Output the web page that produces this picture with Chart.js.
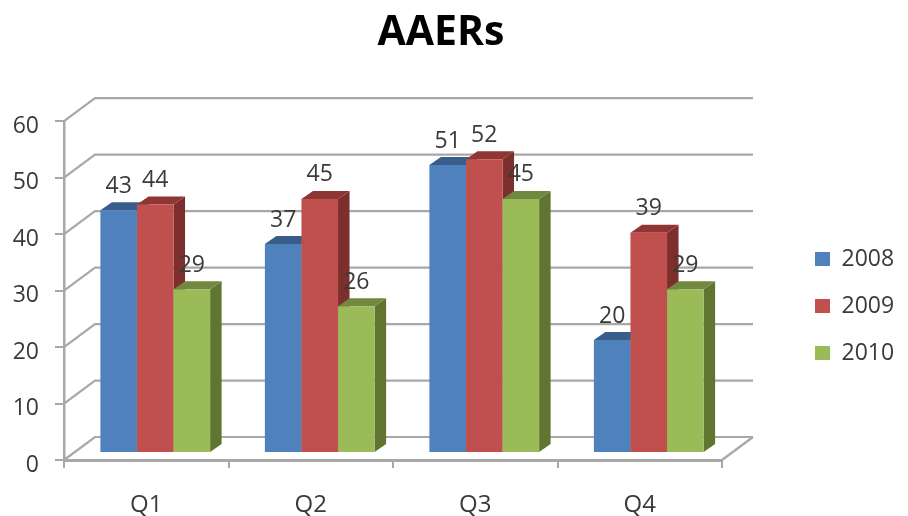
<!DOCTYPE html>
<html>
<head>
<meta charset="utf-8">
<title>AAERs</title>
<script src="https://cdn.jsdelivr.net/npm/chart.js@4"></script>
<style>
  html, body { margin: 0; padding: 0; background: #fff; }
  canvas { display: block; }
</style>
</head>
<body>
<canvas id="chart" width="908" height="516"></canvas>
<script>
const categories = ['Q1', 'Q2', 'Q3', 'Q4'];
const seriesNames = ['2008', '2009', '2010'];
const values2008 = [43, 37, 51, 20];
const values2009 = [44, 45, 52, 39];
const values2010 = [29, 26, 45, 29];

const frontColors = ['#4F81BD', '#C0504D', '#9BBB59'];
const topColors = ['#385D8A', '#8F3634', '#71893F'];
const sideColors = ['#335580', '#7C2F2D', '#5F7530'];
const FONT = '"Open Sans", sans-serif';
const TEXT = '#3a3a3a';
const LINE = '#a8a8a8';

// Pseudo-3D: bars stand part-way into the floor, the back wall sits behind them.
const WALL = { dx: 31, dy: -23 };
const BAR_SHIFT = { dx: 9, dy: -7 };
const BAR_DEPTH = { dx: 11.5, dy: -8 };

const wallPlugin = {
  id: 'wall',
  beforeDatasetsDraw(chart) {
    const { ctx, scales: { x, y } } = chart;
    const left = x.left, right = x.right;
    ctx.save();
    ctx.strokeStyle = LINE;
    ctx.lineWidth = 2.2;
    ctx.beginPath();
    y.ticks.forEach(t => {
      const py = y.getPixelForValue(t.value);
      ctx.moveTo(left, py);
      ctx.lineTo(left + WALL.dx, py + WALL.dy);
      ctx.lineTo(right + WALL.dx, py + WALL.dy);
    });
    const floor = y.getPixelForValue(0);
    ctx.moveTo(right, floor);
    ctx.lineTo(right + WALL.dx, floor + WALL.dy);
    ctx.stroke();
    ctx.restore();
  }
};

// Each series paints left to right so a later bar covers its neighbour's side face.
const prismPlugin = {
  id: 'prism',
  beforeDatasetDraw() {
    return false;
  },
  afterDatasetsDraw(chart) {
    const { ctx } = chart;
    chart.data.datasets.forEach((ds, i) => {
      const meta = chart.getDatasetMeta(i);
      ctx.save();
      ctx.translate(BAR_SHIFT.dx, BAR_SHIFT.dy);
      meta.data.forEach(bar => {
        const x0 = bar.x - bar.width / 2;
        const x1 = bar.x + bar.width / 2;
        ctx.fillStyle = sideColors[i];
        ctx.beginPath();
        ctx.moveTo(x1, bar.y);
        ctx.lineTo(x1 + BAR_DEPTH.dx, bar.y + BAR_DEPTH.dy);
        ctx.lineTo(x1 + BAR_DEPTH.dx, bar.base + BAR_DEPTH.dy);
        ctx.lineTo(x1, bar.base);
        ctx.closePath();
        ctx.fill();
        ctx.fillStyle = topColors[i];
        ctx.beginPath();
        ctx.moveTo(x0, bar.y);
        ctx.lineTo(x0 + BAR_DEPTH.dx, bar.y + BAR_DEPTH.dy);
        ctx.lineTo(x1 + BAR_DEPTH.dx, bar.y + BAR_DEPTH.dy);
        ctx.lineTo(x1, bar.y);
        ctx.closePath();
        ctx.fill();
      });
      meta.controller.draw();
      ctx.restore();
    });

    // Value labels go on last, above every bar face.
    ctx.save();
    ctx.font = '23px ' + FONT;
    ctx.fillStyle = TEXT;
    ctx.textAlign = 'center';
    ctx.textBaseline = 'middle';
    chart.data.datasets.forEach((ds, i) => {
      chart.getDatasetMeta(i).data.forEach((bar, j) => {
        ctx.fillText(String(ds.data[j]), bar.x + BAR_SHIFT.dx, bar.y + BAR_SHIFT.dy - 24);
      });
    });
    ctx.restore();
  }
};

// Title and legend sit outside the plot's own centre line.
const placementPlugin = {
  id: 'placement',
  afterLayout(chart) {
    const t = chart.titleBlock;
    t.left = 0;
    t.right = 882;
    const l = chart.legend;
    const pad = l.options.labels.padding;
    l.left = 815 - pad;
    l.right = 908;
    l.top = 223.5;
    l.bottom = 516;
    l.width = l.right - l.left;
    l.height = l.bottom - l.top;
  }
};

new Chart(document.getElementById('chart'), {
  type: 'bar',
  data: {
    labels: categories,
    datasets: [values2008, values2009, values2010].map((data, i) => ({
      label: seriesNames[i],
      data,
      backgroundColor: frontColors[i],
      borderWidth: 0,
      clip: false,
      categoryPercentage: 0.667,
      barPercentage: 1
    }))
  },
  options: {
    responsive: false,
    animation: false,
    devicePixelRatio: 1,
    layout: { padding: { left: 0, right: 186, top: 0, bottom: 0 } },
    plugins: {
      title: {
        display: true,
        text: 'AAERs',
        color: '#000',
        font: { family: FONT, size: 41, weight: 'bold' },
        padding: { top: 9, bottom: 63 }
      },
      legend: {
        position: 'chartArea',
        align: 'start',
        labels: {
          boxWidth: 15,
          boxHeight: 14,
          padding: 24,
          color: TEXT,
          font: { family: FONT, size: 23 }
        }
      },
      tooltip: { enabled: false }
    },
    scales: {
      x: {
        afterFit(s) { s.height = 56; },
        grid: { drawOnChartArea: false, tickLength: 8, color: LINE, lineWidth: 2 },
        border: { color: LINE, width: 3 },
        ticks: { color: TEXT, padding: 23, maxRotation: 0, font: { family: FONT, size: 24 } }
      },
      y: {
        min: 0,
        max: 60,
        afterFit(s) { s.width = 64; },
        grid: { drawOnChartArea: false, tickLength: 9, color: LINE, lineWidth: 2 },
        border: { color: LINE, width: 2.5 },
        ticks: { stepSize: 10, color: TEXT, padding: 16, labelOffset: 5, font: { family: FONT, size: 23 } }
      }
    }
  },
  plugins: [wallPlugin, prismPlugin, placementPlugin]
});
</script>
</body>
</html>
